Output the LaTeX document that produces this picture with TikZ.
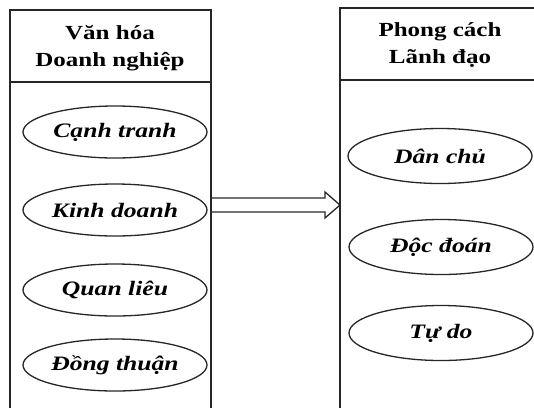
\documentclass[tikz,border=0pt]{standalone}
\usepackage{fontspec}
\setmainfont{Liberation Serif}[FakeStretch=1.25]
\usetikzlibrary{shapes.geometric,calc}
\begin{document}
\begin{tikzpicture}[x=1pt,y=-1pt,
  frame/.style={draw=black!85,line width=1.5pt},
  header/.style={align=center,font=\fontsize{20}{27}\selectfont\bfseries,inner sep=0pt},
  oval/.style={ellipse,draw=black!85,line width=1.3pt,minimum width=184pt,minimum height=52pt,inner ysep=0pt,inner xsep=-25pt,font=\fontsize{20.5}{24}\selectfont\bfseries\itshape},
  blockarrow/.style={draw=black!85,line width=1.3pt}]
\useasboundingbox (0,0) rectangle (534,408);
% left box
\coordinate (LTL) at (10,10);
\coordinate (LTR) at (211,10);
\coordinate (LBL) at (10,408);
\coordinate (LBR) at (211,408);
\coordinate (LDL) at (10,82);
\coordinate (LDR) at (211,82);
\draw[frame] (LBL) -- (LTL) -- (LTR) -- (LBR);
\draw[frame] (LDL) -- (LDR);
% right box
\coordinate (RTL) at (340,8);
\coordinate (RTR) at (534,8);
\coordinate (RBL) at (340,408);
\coordinate (RDL) at (340,80);
\coordinate (RDR) at (534,80);
\draw[frame] (RBL) -- (RTL) -- (RTR);
\draw[frame] (RDL) -- (RDR);
% headers
\node[header] (hl) at (110,48) {Văn hóa\\Doanh nghiệp};
\node[header] (hr) at (440,45) {Phong cách\\Lãnh đạo};
% left ovals
\node[oval] (c1) at (115,132) {Cạnh tranh};
\node[oval] (c2) at (115,210) {Kinh doanh};
\node[oval] (c3) at (115,290) {Quan liêu};
\node[oval] (c4) at (115,365) {Đồng thuận};
% right ovals
\node[oval,minimum height=55pt] (s1) at (440,156) {Dân chủ};
\node[oval,minimum height=55pt] (s2) at (441,247) {Độc đoán};
\node[oval,minimum height=55pt] (s3) at (441,333) {Tự do};
% arrow
\coordinate (aL) at (211,205);
\coordinate (aR) at (340,205);
\draw[blockarrow,line join=miter] ($(aL)+(0,-7)$) -- ($(aR)+(-15,-7)$) -- ($(aR)+(-15,-13)$) -- (aR) -- ($(aR)+(-15,13)$) -- ($(aR)+(-15,7)$) -- ($(aL)+(0,7)$);
\end{tikzpicture}
\end{document}
